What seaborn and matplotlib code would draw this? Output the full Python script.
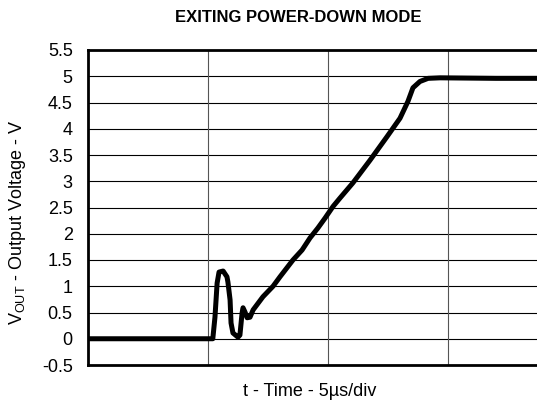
import numpy as np
import pandas as pd
import matplotlib
matplotlib.use("Agg")
import matplotlib.pyplot as plt
import seaborn as sns

# --- estilo ---
sns.set_theme(style="white")
plt.rcParams['font.family'] = ['Liberation Sans', 'DejaVu Sans']
plt.rcParams['mathtext.fontset'] = 'custom'
plt.rcParams['mathtext.rm'] = 'Liberation Sans'
plt.rcParams['text.color'] = 'black'
plt.rcParams['ytick.color'] = 'black'

# --- datos (tiempo en us, tensión en V) ---
time_us = [0.0, 2.6, 4.7, 5.2, 5.29, 5.38, 5.46, 5.63, 5.79, 5.83, 5.92, 5.96,
           6.04, 6.25, 6.33, 6.42, 6.46, 6.54, 6.63, 6.75, 6.88, 7.29, 7.71,
           8.0, 8.54, 8.92, 9.25, 9.58, 9.88, 10.21, 10.5, 11.04, 11.75,
           12.46, 13.0, 13.33, 13.54, 13.83, 14.17, 14.67, 17.0, 20.0]
vout = [0.0, 0.0, 0.0, 0.0, 0.41, 1.06, 1.27, 1.29, 1.18, 1.08, 0.74, 0.30,
        0.11, 0.03, 0.07, 0.49, 0.59, 0.51, 0.40, 0.41, 0.55, 0.80, 1.0,
        1.18, 1.5, 1.69, 1.92, 2.11, 2.30, 2.52, 2.68, 2.97, 3.40,
        3.85, 4.20, 4.52, 4.78, 4.90, 4.96, 4.97, 4.96, 4.96]
yticks = np.arange(-0.5, 5.51, 0.5)
ytick_labels = ['-0.5', '0', '0.5', '1', '1.5', '2', '2.5', '3', '3.5', '4', '4.5', '5', '5.5']

df = pd.DataFrame({'t': time_us, 'v': vout})

fig = plt.figure(figsize=(5.37, 4.07), dpi=100)
# el eje se sale por la derecha como en la captura original
ax = fig.add_axes([88 / 537, 1 - 365 / 407, 480 / 537, 315 / 407])

sns.lineplot(data=df, x='t', y='v', ax=ax, color='black', linewidth=3.6,
             solid_joinstyle='round', solid_capstyle='round')

ax.set_xlim(0, 20)
ax.set_ylim(-0.5, 5.5)
ax.set_xticks([5, 10, 15])
ax.set_xticklabels([])
ax.set_yticks(yticks)
ax.set_yticklabels(ytick_labels, fontsize=13)
ax.tick_params(axis='both', length=0)
ax.tick_params(axis='y', pad=11)

# rejilla: horizontales negras, verticales grises
for y in yticks[1:-1]:
    ax.axhline(y, color='black', linewidth=0.8, zorder=0)
for x in [5, 10, 15]:
    ax.axvline(x, color='#555555', linewidth=0.8, zorder=0)

for s in ['left', 'top', 'bottom', 'right']:
    ax.spines[s].set_color('black')
    ax.spines[s].set_linewidth(2.0)

ax.set_xlabel('')
ax.set_ylabel('')

fig.text(298 / 537, 1 - 18 / 407, 'EXITING POWER-DOWN MODE', ha='center', va='center',
         fontsize=12, fontweight='bold')
fig.text(310 / 537, 1 - 392 / 407, 't - Time - 5\u00b5s/div', ha='center', va='center',
         fontsize=13)
fig.text(18 / 537, 1 - 222 / 407, r'V$_{\mathrm{OUT}}$ - Output Voltage - V', ha='center',
         va='center', rotation=90, fontsize=13)

fig.savefig('out.png', dpi=100)
